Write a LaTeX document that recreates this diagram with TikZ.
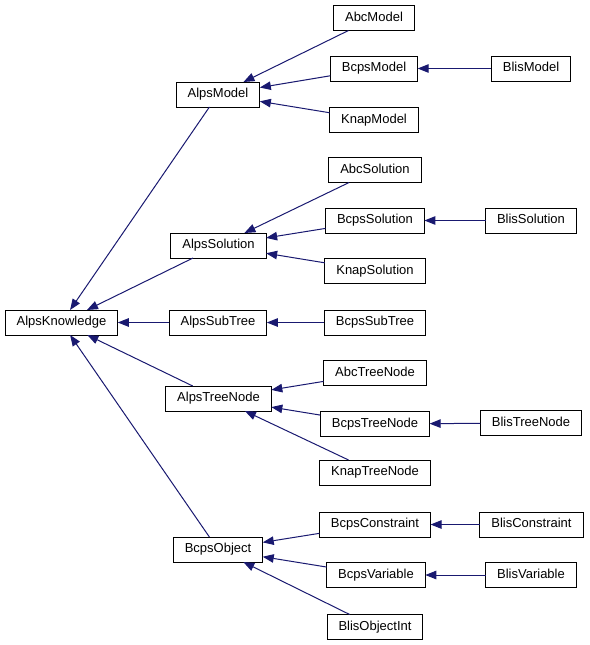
\documentclass[tikz,border=0pt]{standalone}
\usepackage{fontspec}
\setmainfont{Liberation Sans}
\usepackage{tikz}
\usetikzlibrary{arrows.meta}
\definecolor{edgeblue}{RGB}{25,25,112}

\begin{document}
\begin{tikzpicture}[x=1pt,y=-1pt,
  cls/.style={draw=black,line width=1pt,fill=white,minimum height=25pt,inner xsep=11.5pt,inner ysep=0pt,outer sep=0pt,text height=9.5pt,text depth=3pt,font=\fontsize{13}{15}\selectfont},
  edge/.style={draw=edgeblue,line width=1pt,-{Triangle[length=11pt,width=8.5pt]}}]
\useasboundingbox (0,0) rectangle (589,645);
%root and first level
\node[cls] (alpsknowledge) at (61.5,322.5) {AlpsKnowledge};
\node[cls] (alpsmodel) at (218,94.5) {AlpsModel};
\node[cls] (alpssolution) at (218.5,245.5) {AlpsSolution};
\node[cls] (alpssubtree) at (218,322.5) {AlpsSubTree};
\node[cls] (alpstreenode) at (218.5,398.5) {AlpsTreeNode};
\node[cls] (bcpsobject) at (218,549.5) {BcpsObject};
%second level
\node[cls] (abcmodel) at (374,18) {AbcModel};
\node[cls] (bcpsmodel) at (374,68.5) {BcpsModel};
\node[cls] (knapmodel) at (374,120) {KnapModel};
\node[cls] (abcsolution) at (375,170) {AbcSolution};
\node[cls] (bcpssolution) at (375,220.5) {BcpsSolution};
\node[cls] (knapsolution) at (375,271) {KnapSolution};
\node[cls] (bcpssubtree) at (375,322.5) {BcpsSubTree};
\node[cls] (abctreenode) at (375,373) {AbcTreeNode};
\node[cls] (bcpstreenode) at (375,424) {BcpsTreeNode};
\node[cls] (knaptreenode) at (375,472.5) {KnapTreeNode};
\node[cls] (bcpsconstraint) at (375,524.5) {BcpsConstraint};
\node[cls] (bcpsvariable) at (376,575) {BcpsVariable};
\node[cls] (blisobjectint) at (375,627) {BlisObjectInt};
%third level
\node[cls] (blismodel) at (531,68.5) {BlisModel};
\node[cls] (blissolution) at (531,220.5) {BlisSolution};
\node[cls] (blistreenode) at (531,423) {BlisTreeNode};
\node[cls] (blisconstraint) at (531.5,524.5) {BlisConstraint};
\node[cls] (blisvariable) at (531,575) {BlisVariable};
%inheritance
\draw[edge] (alpsmodel) -- (alpsknowledge);
\draw[edge] (alpssolution) -- (alpsknowledge);
\draw[edge] (alpssubtree) -- (alpsknowledge);
\draw[edge] (alpstreenode) -- (alpsknowledge);
\draw[edge] (bcpsobject) -- (alpsknowledge);
\draw[edge] (abcmodel) -- (alpsmodel);
\draw[edge] (bcpsmodel) -- (alpsmodel);
\draw[edge] (knapmodel) -- (alpsmodel);
\draw[edge] (blismodel) -- (bcpsmodel);
\draw[edge] (abcsolution) -- (alpssolution);
\draw[edge] (bcpssolution) -- (alpssolution);
\draw[edge] (knapsolution) -- (alpssolution);
\draw[edge] (blissolution) -- (bcpssolution);
\draw[edge] (bcpssubtree) -- (alpssubtree);
\draw[edge] (abctreenode) -- (alpstreenode);
\draw[edge] (bcpstreenode) -- (alpstreenode);
\draw[edge] (knaptreenode) -- (alpstreenode);
\draw[edge] (blistreenode) -- (bcpstreenode);
\draw[edge] (bcpsconstraint) -- (bcpsobject);
\draw[edge] (bcpsvariable) -- (bcpsobject);
\draw[edge] (blisobjectint) -- (bcpsobject);
\draw[edge] (blisconstraint) -- (bcpsconstraint);
\draw[edge] (blisvariable) -- (bcpsvariable);
\end{tikzpicture}
\end{document}
